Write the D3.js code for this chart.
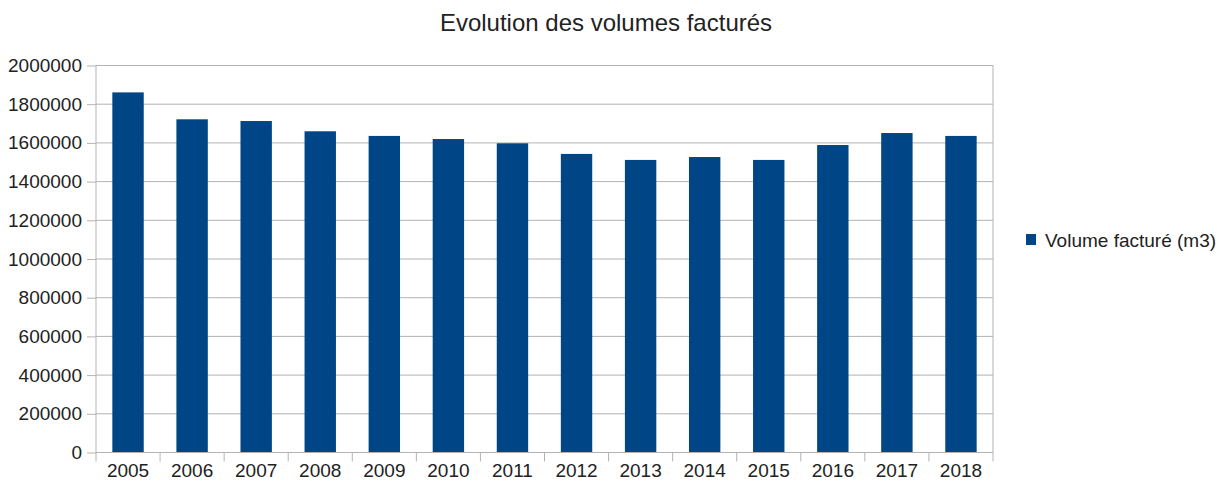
<!DOCTYPE html>
<html>
<head>
<meta charset="utf-8">
<script src="https://cdn.jsdelivr.net/npm/d3@7"></script>
<style>
  body { margin: 0; background: #fff; }
  svg text { font-family: "Liberation Sans", Arial, sans-serif; fill: #222; }
</style>
</head>
<body>
<svg id="canvas"></svg>
<script>
// donnees
let years = ['2005','2006','2007','2008','2009','2010','2011','2012','2013','2014','2015','2016','2017','2018']
let volumes = [1861000, 1722000, 1713000, 1660000, 1636000, 1620000, 1598000, 1543000, 1512000, 1527000, 1512000, 1589000, 1651000, 1636000]
let yTicks = [0, 200000, 400000, 600000, 800000, 1000000, 1200000, 1400000, 1600000, 1800000, 2000000]
let title = 'Evolution des volumes facturés'
let seriesName = 'Volume facturé (m3)'

let width = 1226
let height = 483
let plotLeft = 96, plotRight = 993, plotTop = 65.5, plotBottom = 452.5

let canvas = d3.select('#canvas').attr('width', width).attr('height', height)

let xScale = d3.scaleBand().domain(years).range([plotLeft, plotRight]).paddingInner(0.51).paddingOuter(0.255)
let xTickScale = d3.scaleBand().domain(years).range([plotLeft, plotRight])
let yScale = d3.scaleLinear().domain([0, 2000000]).range([plotBottom, plotTop])

// grille
canvas.append('g')
  .selectAll('line')
  .data(yTicks)
  .enter()
  .append('line')
  .attr('x1', plotLeft).attr('x2', plotRight)
  .attr('y1', d => yScale(d)).attr('y2', d => yScale(d))
  .attr('stroke', '#b3b3b3').attr('stroke-width', 1)

// bord droit
canvas.append('line')
  .attr('x1', plotRight).attr('x2', plotRight).attr('y1', plotTop).attr('y2', plotBottom)
  .attr('stroke', '#b3b3b3')

// barres
canvas.append('g')
  .selectAll('rect')
  .data(volumes)
  .enter()
  .append('rect')
  .attr('x', (d, i) => xScale(years[i]))
  .attr('width', xScale.bandwidth())
  .attr('y', d => yScale(d))
  .attr('height', d => plotBottom - yScale(d))
  .attr('fill', '#004586')

// axes
let yAxis = d3.axisLeft(yScale).tickValues(yTicks).tickSize(9).tickPadding(5).tickFormat(d3.format('d'))
let yG = canvas.append('g').attr('transform', 'translate(' + plotLeft + ',0)').call(yAxis)
yG.selectAll('line, path').attr('stroke', '#b3b3b3')
yG.select('.domain').attr('d', 'M0,' + plotTop + 'V' + plotBottom)
yG.selectAll('text').style('font-size', '19px').style('font-family', '"Liberation Sans", Arial, sans-serif').attr('fill', '#222')

let xAxis = d3.axisBottom(xTickScale).tickSize(0).tickPadding(8)
let xG = canvas.append('g').attr('transform', 'translate(0,' + plotBottom + ')').call(xAxis)
xG.select('.domain').attr('stroke', '#b3b3b3').attr('d', 'M' + plotLeft + ',0H' + plotRight)
xG.selectAll('text').style('font-size', '19px').style('font-family', '"Liberation Sans", Arial, sans-serif').attr('fill', '#222').attr('dy', '0.85em')

// petites graduations entre les categories
let boundaries = years.map(y => xTickScale(y)).concat([plotRight])
xG.selectAll('.sep')
  .data(boundaries)
  .enter()
  .append('line')
  .attr('class', 'sep')
  .attr('x1', d => d).attr('x2', d => d)
  .attr('y1', 0).attr('y2', 9)
  .attr('stroke', '#b3b3b3')

// titre
canvas.append('text')
  .attr('x', 606).attr('y', 31)
  .attr('text-anchor', 'middle')
  .style('font-size', '24px')
  .text(title)

// legende
let legend = canvas.append('g').attr('transform', 'translate(1026,234)')
legend.append('rect').attr('width', 10).attr('height', 11).attr('fill', '#004586')
legend.append('text').attr('x', 19).attr('y', 12.5).style('font-size', '19px').text(seriesName)
</script>
</body>
</html>
